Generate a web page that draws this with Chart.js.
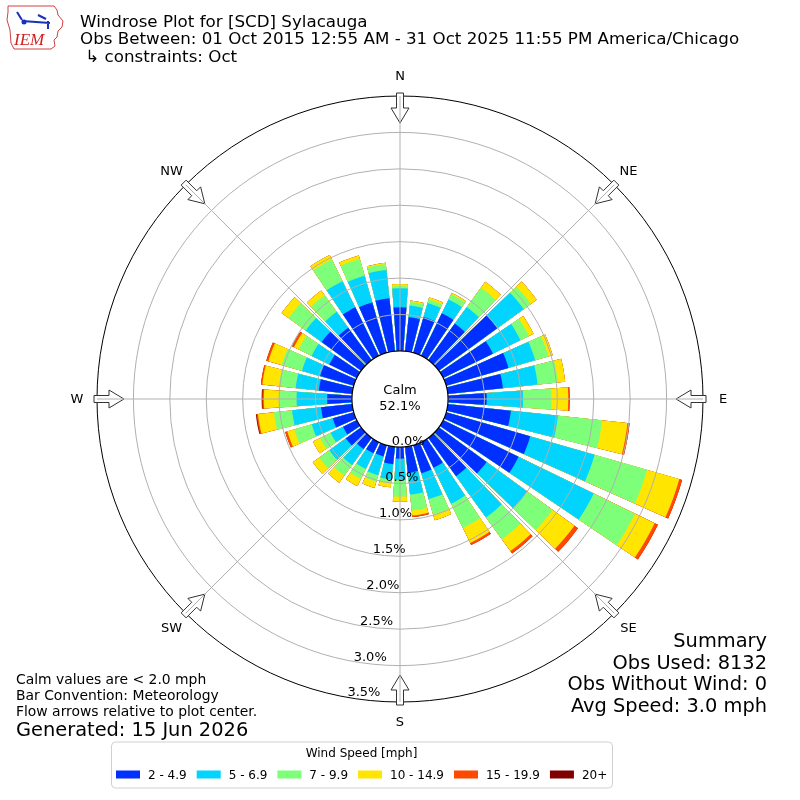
<!DOCTYPE html>
<html>
<head>
<meta charset="utf-8">
<title>Windrose Plot for [SCD] Sylacauga</title>
<script src="https://cdn.jsdelivr.net/npm/chart.js@4.4.0/dist/chart.umd.min.js"></script>
<style>
  html, body { margin: 0; padding: 0; background: #fff; }
</style>
</head>
<body>
<canvas id="idCanvas" width="800" height="800"></canvas>
<script>
// wind direction bins (degrees, meteorological)
const directions = [0, 10, 20, 30, 40, 50, 60, 70, 80, 90, 100, 110, 120, 130, 140, 150, 160, 170,
                    180, 190, 200, 210, 220, 230, 240, 250, 260, 270, 280, 290, 300, 310, 320, 330, 340, 350];
const speedBins = ['2 - 4.9', '5 - 6.9', '7 - 9.9', '10 - 14.9', '15 - 19.9', '20+'];

// percent of observations per direction, one array per speed bin
const spd2to5   = [0.60, 0.47, 0.51, 0.65, 0.62, 0.99, 0.76, 0.89, 0.76, 0.53, 0.87, 1.20, 1.15, 0.81, 0.65, 0.39, 0.40, 0.36,
                   0.16, 0.24, 0.16, 0.17, 0.19, 0.26, 0.21, 0.30, 0.43, 0.34, 0.46, 0.48, 0.42, 0.67, 0.55, 0.74, 0.72, 0.73];
const spd5to7   = [0.26, 0.16, 0.20, 0.21, 0.28, 0.45, 0.42, 0.38, 0.48, 0.50, 0.65, 0.92, 1.15, 0.69, 0.70, 0.55, 0.37, 0.30,
                   0.29, 0.21, 0.27, 0.24, 0.27, 0.28, 0.19, 0.30, 0.40, 0.42, 0.32, 0.26, 0.27, 0.27, 0.27, 0.40, 0.38, 0.39];
const spd7to10  = [0.03, 0.05, 0.05, 0.08, 0.33, 0.12, 0.13, 0.19, 0.28, 0.39, 0.61, 0.75, 0.63, 0.43, 0.37, 0.37, 0.22, 0.22,
                   0.23, 0.05, 0.09, 0.15, 0.18, 0.17, 0.16, 0.25, 0.25, 0.23, 0.23, 0.29, 0.20, 0.29, 0.28, 0.33, 0.24, 0.08];
const spd10to15 = [0.03, 0.02, 0.03, 0.02, 0.10, 0.10, 0.07, 0.06, 0.10, 0.23, 0.35, 0.46, 0.30, 0.37, 0.20, 0.23, 0.08, 0.07,
                   0.07, 0.06, 0.09, 0.11, 0.12, 0.11, 0.11, 0.10, 0.22, 0.22, 0.23, 0.19, 0.07, 0.12, 0.08, 0.07, 0.05, 0.02];
const spd15to20 = [0, 0, 0, 0, 0, 0, 0, 0, 0, 0.02, 0.03, 0.04, 0.05, 0.06, 0.04, 0.03, 0, 0.02,
                   0, 0, 0, 0, 0, 0, 0, 0.03, 0.02, 0.02, 0.02, 0.03, 0.03, 0, 0, 0, 0, 0];
const spd20plus = [0, 0, 0, 0, 0, 0, 0, 0, 0, 0, 0, 0, 0, 0, 0, 0, 0, 0,
                   0, 0, 0, 0, 0, 0, 0, 0, 0.01, 0.01, 0, 0, 0, 0, 0, 0, 0, 0];

const ringTicks = [0, 0.5, 1.0, 1.5, 2.0, 2.5, 3.0, 3.5];
const compassLabels = ['N', 'NE', 'E', 'SE', 'S', 'SW', 'W', 'NW'];
const calmPercent = 52.1;

const speedColors = ['#0030ff', '#00d4ff', '#7dff7a', '#ffe500', '#ff4800', '#800000'];

// stack the bins: each dataset is the running total, drawn from the outside in
const speedSeries = [spd2to5, spd5to7, spd7to10, spd10to15, spd15to20, spd20plus];
const labels = [];
directions.forEach(d => { labels.push(d + '°'); labels.push(''); });
let running = directions.map(() => 0);
const datasets = speedSeries.map((arr, k) => {
    running = running.map((v, i) => v + arr[i]);
    const data = [];
    running.forEach(v => { data.push(+v.toFixed(3)); data.push(0); });
    return {
        label: speedBins[k],
        data: data,
        backgroundColor: speedColors[k],
        borderWidth: 0,
        // 8 degree bar then 2 degree gap per direction
        angle: (c) => (c.dataIndex % 2 === 0 ? 8 : 2)
    };
});

function txt(ctx, s, x, y, font, align, base, color) {
    ctx.font = font;
    ctx.textAlign = align || 'left';
    ctx.textBaseline = base || 'alphabetic';
    ctx.fillStyle = color || '#000';
    ctx.fillText(s, x, y);
}

const FONT = '"DejaVu Sans", sans-serif';

const windroseDecor = {
    id: 'windroseDecor',
    afterDraw(chart) {
        const ctx = chart.ctx;
        const sc = chart.scales.r;
        const cx = sc.xCenter, cy = sc.yCenter;
        const rOut = sc.getDistanceFromCenterForValue(ringTicks[ringTicks.length - 1]);
        const rCalm = sc.getDistanceFromCenterForValue(0);
        const pt = (deg, r, w) => {
            const a = deg * Math.PI / 180;
            return [cx + r * Math.sin(a) + w * Math.cos(a), cy - r * Math.cos(a) + w * Math.sin(a)];
        };
        ctx.save();

        // flow arrows
        compassLabels.forEach((lab, k) => {
            const b = k * 45;
            const shape = [[rOut + 3, -3.5], [rOut - 12, -3.5], [rOut - 12, -9], [rOut - 27, 0],
                           [rOut - 12, 9], [rOut - 12, 3.5], [rOut + 3, 3.5]];
            ctx.beginPath();
            shape.forEach((s, i) => {
                const p = pt(b, s[0], s[1]);
                if (i === 0) ctx.moveTo(p[0], p[1]); else ctx.lineTo(p[0], p[1]);
            });
            ctx.closePath();
            ctx.fillStyle = '#fff';
            ctx.fill();
            ctx.strokeStyle = '#333';
            ctx.lineWidth = 1;
            ctx.stroke();
        });

        // angle lines
        ctx.strokeStyle = '#b0b0b0';
        ctx.lineWidth = 1;
        compassLabels.forEach((lab, k) => {
            const p = pt(k * 45, rOut, 0);
            ctx.beginPath();
            ctx.moveTo(cx, cy);
            ctx.lineTo(p[0], p[1]);
            ctx.stroke();
        });

        // calm circle
        ctx.beginPath();
        ctx.arc(cx, cy, rCalm, 0, Math.PI * 2);
        ctx.fillStyle = '#fff';
        ctx.fill();
        ctx.strokeStyle = '#000';
        ctx.lineWidth = 1.2;
        ctx.stroke();
        txt(ctx, 'Calm', cx, cy - 8, '13px ' + FONT, 'center', 'middle');
        txt(ctx, calmPercent.toFixed(1) + '%', cx, cy + 8, '13px ' + FONT, 'center', 'middle');

        // ring labels
        ringTicks.forEach(v => {
            const p = pt(190, sc.getDistanceFromCenterForValue(v), 0);
            txt(ctx, v.toFixed(1) + '%', p[0], p[1] - 1, '13px ' + FONT, 'left', 'alphabetic');
        });

        // compass labels
        compassLabels.forEach((lab, k) => {
            const p = pt(k * 45, rOut + 20, 0);
            txt(ctx, lab, p[0], p[1] + 1, '13px ' + FONT, 'center', 'middle');
        });

        // header
        const hf = '16.7px ' + FONT;
        txt(ctx, 'Windrose Plot for [SCD] Sylacauga', 80, 26.5, hf);
        txt(ctx, 'Obs Between: 01 Oct 2015 12:55 AM - 31 Oct 2025 11:55 PM America/Chicago', 80, 44, hf);
        txt(ctx, ' \u21b3 constraints: Oct', 80, 61.5, hf);

        // IEM logo
        ctx.beginPath();
        [[8, 6], [54, 6], [57, 10], [58, 15], [63, 21], [62, 27], [58, 31], [57, 37], [54, 40], [55, 46],
         [51, 49], [14, 49], [11, 43], [10, 30], [7, 20], [8, 12]].forEach((p, i) => {
            if (i === 0) ctx.moveTo(p[0], p[1]); else ctx.lineTo(p[0], p[1]);
        });
        ctx.closePath();
        ctx.strokeStyle = '#d04040';
        ctx.lineWidth = 1;
        ctx.stroke();
        ctx.strokeStyle = '#1a2fc0';
        ctx.lineWidth = 2;
        ctx.beginPath();
        ctx.moveTo(22, 21); ctx.lineTo(50, 23);
        ctx.moveTo(17, 12); ctx.lineTo(22, 20);
        ctx.moveTo(38, 15); ctx.lineTo(46, 19);
        ctx.moveTo(48, 21); ctx.lineTo(48, 29);
        ctx.stroke();
        ctx.fillStyle = '#1a2fc0';
        ctx.beginPath(); ctx.arc(24, 22, 2.5, 0, Math.PI * 2); ctx.fill();
        txt(ctx, 'IEM', 14, 45, 'italic 17px "Liberation Serif", serif', 'left', 'alphabetic', '#d02020');

        // notes bottom left
        const sf = '13.9px ' + FONT;
        txt(ctx, 'Calm values are < 2.0 mph', 16, 684, sf);
        txt(ctx, 'Bar Convention: Meteorology', 16, 700, sf);
        txt(ctx, 'Flow arrows relative to plot center.', 16, 716, sf);
        txt(ctx, 'Generated: 15 Jun 2026', 16, 736, '19.4px ' + FONT);

        // summary bottom right
        const bf = '19.4px ' + FONT;
        txt(ctx, 'Summary', 767, 647, bf, 'right');
        txt(ctx, 'Obs Used: 8132', 767, 668.5, bf, 'right');
        txt(ctx, 'Obs Without Wind: 0', 767, 690, bf, 'right');
        txt(ctx, 'Avg Speed: 3.0 mph', 767, 712, bf, 'right');

        // legend
        ctx.beginPath();
        ctx.roundRect(111.5, 742, 501, 46, 4);
        ctx.fillStyle = 'rgba(255,255,255,0.8)';
        ctx.fill();
        ctx.strokeStyle = '#d0d0d0';
        ctx.lineWidth = 1;
        ctx.stroke();
        const lf = '12px ' + FONT;
        txt(ctx, 'Wind Speed [mph]', 361.5, 757, '12px ' + FONT, 'center');
        let x = 116;
        chart.data.datasets.forEach(ds => {
            ctx.fillStyle = ds.backgroundColor;
            ctx.fillRect(x, 770.5, 24, 8);
            ctx.font = lf;
            const w = ctx.measureText(ds.label).width;
            txt(ctx, ds.label, x + 32, 778.5, lf);
            x += 32 + w + 10;
        });

        ctx.restore();
    }
};

const ctx = document.getElementById('idCanvas').getContext('2d');
const windrose = new Chart(ctx, {
    type: 'polarArea',
    data: { labels: labels, datasets: datasets },
    options: {
        responsive: false,
        animation: false,
        events: [],
        layout: { padding: { left: 97, right: 97, top: 96, bottom: 98 } },
        plugins: {
            legend: { display: false },
            tooltip: { enabled: false }
        },
        scales: {
            r: {
                min: -0.66,
                max: 3.5,
                startAngle: -4,
                afterBuildTicks: (scale) => { scale.ticks = ringTicks.map(v => ({ value: v })); },
                ticks: { display: false },
                grid: {
                    z: 1,
                    circular: true,
                    lineWidth: 1,
                    color: (c) => (c.tick && c.tick.value === 3.5 ? '#000' : '#b0b0b0')
                },
                angleLines: { display: false },
                pointLabels: { display: false }
            }
        }
    },
    plugins: [windroseDecor]
});
</script>
</body>
</html>
